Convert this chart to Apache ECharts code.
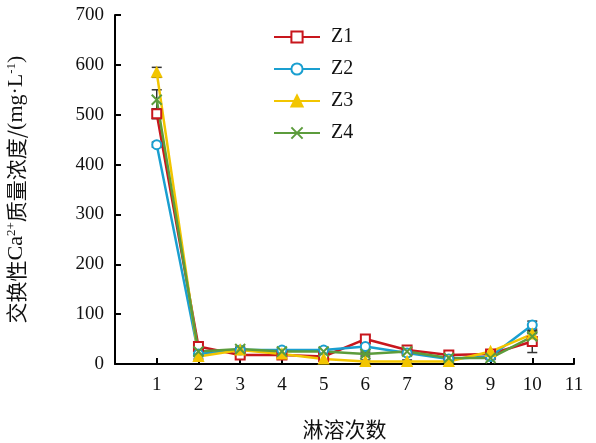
<!DOCTYPE html>
<html><head><meta charset="utf-8">
<script src="https://cdn.jsdelivr.net/npm/echarts@6/dist/echarts.min.js"></script>
<style>html,body{margin:0;padding:0;background:#fff}#c{width:596px;height:443px}</style>
</head><body><div id="c"></div>
<script>
const runs = [1,2,3,4,5,6,7,8,9,10];
const z1 = [502,35,18,18,15,50,28,18,20,45];
const z2 = [440,20,28,28,28,35,22,10,15,78];
const z3 = [585,15,28,20,10,5,5,5,25,60];
const z4 = [530,25,30,25,25,20,25,12,12,55];
const e1 = [10,8,5,5,5,6,4,3,3,22];
const e2 = [5,5,4,4,4,6,3,3,3,8];
const e3 = [10,5,4,4,3,3,3,3,3,6];
const e4 = [20,5,4,4,4,4,3,3,3,6];

const names = ['Z1','Z2','Z3','Z4'];
const vals = [z1,z2,z3,z4];
const errs = [e1,e2,e3,e4];
const colors = ['#c8161d','#1a9fd0','#f2c500','#5c9c3c'];
const xPath = 'path://M0,0L10,10M10,0L0,10';
const symbols = ['emptyRect','emptyCircle','triangle',xPath];

const series = [];
vals.forEach((v,i)=>{
  series.push({
    name: names[i], type:'line',
    data: runs.map((r,k)=>[r,v[k]]),
    symbol: symbols[i], symbolSize: i===3?10:9,
    lineStyle:{width:2.5,color:colors[i]},
    itemStyle:{color:colors[i], borderColor:colors[i], borderWidth:2},
    z: 3
  });
  series.push({
    type:'custom', name: names[i]+'err', silent:true, z:2,
    data: runs.map((r,k)=>[r,v[k]-errs[i][k],v[k]+errs[i][k]]),
    renderItem:(params,api)=>{
      const x = api.value(0);
      const lo = api.coord([x,api.value(1)]);
      const hi = api.coord([x,api.value(2)]);
      const w = 5;
      const st = {stroke:'#333',lineWidth:1.5};
      return {type:'group',children:[
        {type:'line',shape:{x1:lo[0],y1:lo[1],x2:hi[0],y2:hi[1]},style:st},
        {type:'line',shape:{x1:lo[0]-w,y1:lo[1],x2:lo[0]+w,y2:lo[1]},style:st},
        {type:'line',shape:{x1:hi[0]-w,y1:hi[1],x2:hi[0]+w,y2:hi[1]},style:st}
      ]};
    }
  });
});

const chart = echarts.init(document.getElementById('c'));
chart.setOption({
  animation:false,
  backgroundColor:'#fff',
  grid:{left:115,right:22,top:15,bottom:79,containLabel:false,outerBoundsMode:'none'},
  legend:{
    orient:'vertical', left:268, top:22, itemGap:12, itemWidth:46, itemHeight:14,
    data:names,
    textStyle:{fontFamily:'Liberation Serif',fontSize:20,color:'#111',padding:[0,0,0,6]}
  },
  xAxis:{
    type:'value', min:0, max:11, interval:1,
    axisLine:{show:true,lineStyle:{color:'#000',width:2}},
    axisTick:{show:true,inside:true,length:6,lineStyle:{color:'#000',width:2}},
    splitLine:{show:false},
    axisLabel:{showMinLabel:false,margin:12,fontFamily:'Liberation Serif',fontSize:19,color:'#111'},
    name:'淋溶次数', nameLocation:'middle', nameGap:55,
    nameTextStyle:{fontFamily:'Noto Sans CJK SC',fontSize:21,color:'#111'}
  },
  yAxis:{
    type:'value', min:0, max:700, interval:100,
    axisLine:{show:true,lineStyle:{color:'#000',width:2}},
    axisTick:{show:true,inside:true,length:6,lineStyle:{color:'#000',width:2}},
    splitLine:{show:false},
    axisLabel:{margin:11,fontFamily:'Liberation Serif',fontSize:19,color:'#111'},
    name:'{c|交换性}{l|Ca}{sup|2+}{c|质量浓度/}{l|(mg·L}{sup|-1}{l|)}', nameLocation:'middle', nameGap:88,
    nameTextStyle:{color:'#111',
      rich:{
        c:{fontFamily:'Noto Sans CJK SC',fontSize:21,color:'#111'},
        l:{fontFamily:'Liberation Serif',fontSize:22,color:'#111'},
        sup:{fontFamily:'Liberation Serif',fontSize:13,color:'#111',verticalAlign:'top',lineHeight:13}
      }}
  },
  series: series
});
</script></body></html>
